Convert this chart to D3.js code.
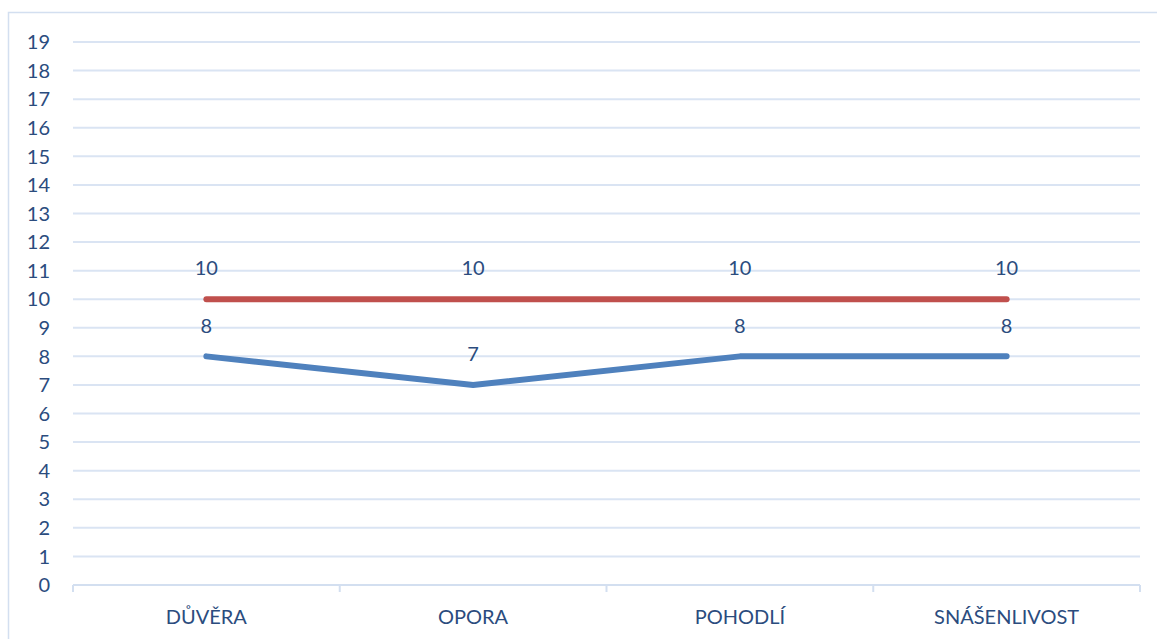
<!DOCTYPE html>
<html>
<head>
<meta charset="utf-8">
<script src="https://cdn.jsdelivr.net/npm/d3@7"></script>
<style>
  body { margin: 0; background: #fff; }
  svg text { font-family: Lato, "Open Sans", sans-serif; fill: #2B4C7E; }
</style>
</head>
<body>
<div id="chart"></div>
<script>
// categories and the two series
const categories = ["DŮVĚRA", "OPORA", "POHODLÍ", "SNÁŠENLIVOST"];
const blueValues = [8, 7, 8, 8];
const redValues = [10, 10, 10, 10];
const yTicks = d3.range(0, 20);

const width = 1157, height = 639;
const margin = { top: 42, right: 17, bottom: 54, left: 73 };
const fontSize = 20;

const svg = d3.select("#chart").append("svg")
    .attr("width", width)
    .attr("height", height);

// outer frame (only left and top edges are visible in the picture)
svg.append("rect")
    .attr("x", 8.5).attr("y", 12.5)
    .attr("width", width).attr("height", height)
    .attr("fill", "none")
    .attr("stroke", "#D3DFF0")
    .attr("stroke-width", 1.5);

const x = d3.scaleBand()
    .domain(categories)
    .range([margin.left, width - margin.right]);

const y = d3.scaleLinear()
    .domain([0, 19])
    .range([height - margin.bottom, margin.top]);

//gridlines
svg.append("g")
    .selectAll("line")
    .data(yTicks.filter(d => d > 0))
    .join("line")
    .attr("x1", margin.left)
    .attr("x2", width - margin.right)
    .attr("y1", d => y(d))
    .attr("y2", d => y(d))
    .attr("stroke", "#DAE4F3")
    .attr("stroke-width", 2);

// y labels
svg.append("g")
    .selectAll("text")
    .data(yTicks)
    .join("text")
    .attr("x", 50)
    .attr("y", d => y(d))
    .attr("dy", "0.36em")
    .attr("text-anchor", "end")
    .attr("font-size", fontSize)
    .text(d => d);

// x axis with ticks between categories
const xAxis = svg.append("g")
    .attr("transform", `translate(0,${y(0)})`);
xAxis.append("line")
    .attr("x1", margin.left).attr("x2", width - margin.right)
    .attr("stroke", "#D3DFF0").attr("stroke-width", 2);
const bounds = categories.map(c => x(c)).concat([x.range()[1]]);
xAxis.selectAll(".tick")
    .data(bounds)
    .join("line")
    .attr("class", "tick")
    .attr("x1", d => d).attr("x2", d => d)
    .attr("y1", 0).attr("y2", 7)
    .attr("stroke", "#D3DFF0").attr("stroke-width", 2);
xAxis.selectAll("text")
    .data(categories)
    .join("text")
    .attr("x", d => x(d) + x.bandwidth() / 2)
    .attr("y", 32)
    .attr("dy", "0.36em")
    .attr("text-anchor", "middle")
    .attr("font-size", fontSize)
    .text(d => d);

const cx = i => x(categories[i]) + x.bandwidth() / 2;
const line = d3.line()
    .x((d, i) => cx(i))
    .y(d => y(d));

function drawSeries(values, color) {
    svg.append("path")
        .datum(values)
        .attr("d", line)
        .attr("fill", "none")
        .attr("stroke", color)
        .attr("stroke-width", 6)
        .attr("stroke-linecap", "round")
        .attr("stroke-linejoin", "round");
    svg.append("g")
        .selectAll("text")
        .data(values)
        .join("text")
        .attr("x", (d, i) => cx(i))
        .attr("y", d => y(d) - 31)
        .attr("dy", "0.36em")
        .attr("text-anchor", "middle")
        .attr("font-size", fontSize)
        .text(d => d);
}

drawSeries(blueValues, "#4F81BD");
drawSeries(redValues, "#C0504D");
</script>
</body>
</html>
